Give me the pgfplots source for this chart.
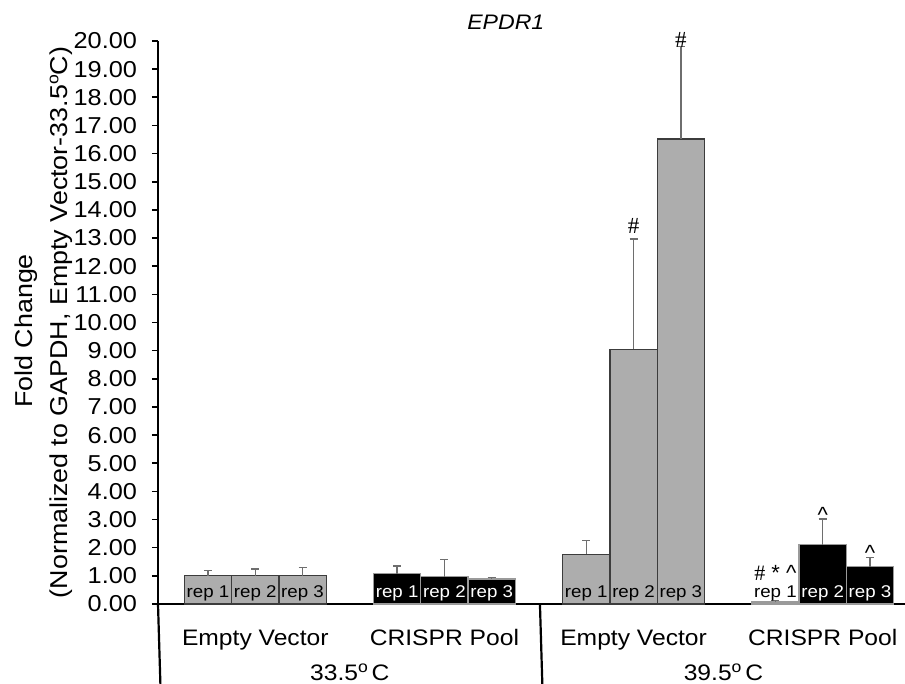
\documentclass[border=0pt]{standalone}
\usepackage{fontspec}
\setmainfont[FakeStretch=1.1]{Liberation Sans}
\newfontfamily\plainsans{Liberation Sans}
\newfontfamily\serifmark{Liberation Serif}
\usepackage{pgfplots}
\pgfplotsset{compat=1.18}
\definecolor{bargray}{HTML}{ADADAD}
\definecolor{edgegray}{HTML}{3C3C3C}
\definecolor{errgray}{HTML}{6E6E6E}
\definecolor{blackedge}{HTML}{9A9A9A}
\newcommand{\dego}{\raisebox{0.75ex}{\fontsize{8}{8}\selectfont o}}

\begin{document}
\begin{tikzpicture}
\path[use as bounding box] (-79pt,-40pt) rectangle (373.5pt,302pt);
\begin{axis}[
    at={(0,0)}, anchor=south west,
    scale only axis,
    width=373.5pt, height=281.5pt,
    xmin=-0.057, xmax=15.74,
    ymin=0, ymax=20,
    clip=false,
    axis x line=bottom, axis y line=left,
    axis line style={-, line width=1.1pt},
    ytick={0,1,...,20},
    y tick label style={font=\fontsize{11.5}{12}\selectfont, xshift=-4pt,
      /pgf/number format/fixed, /pgf/number format/fixed zerofill,
      /pgf/number format/precision=2, /pgf/number format/assume math mode=true},
    tick align=outside,
    major tick length=3pt,
    y tick style={black, line width=0.8pt},
    xtick={2,6,10,14},
    xticklabels={Empty Vector, CRISPR Pool, Empty Vector, CRISPR Pool},
    x tick style={draw=none},
    x tick label style={font=\fontsize{11.2}{13}\selectfont, anchor=base, yshift=-18pt},
    title={EPDR1},
    every axis title shift=0pt,
    title style={at={(0.4656,1.033)}, anchor=center, font=\itshape\fontsize{10.5}{12}\selectfont},
]
% empty vector, 33.5 and 39.5
\addplot[ybar, bar width=1, bar shift=0pt, fill=bargray, draw=edgegray, line width=0.6pt,
    error bars/.cd, y dir=plus, y explicit,
    error bar style={errgray, line width=0.7pt},
    error mark options={rotate=90, mark size=2pt, errgray, line width=0.7pt}]
  coordinates {
    (1, 1.00) +- (0, 0.18)
    (2, 1.00) +- (0, 0.24)
    (3, 1.00) +- (0, 0.30)
    (9, 1.77) +- (0, 0.48)
    (10, 9.05) +- (0, 3.92)
    (11, 16.52) +- (0, 3.28)
  };
% CRISPR pool
\addplot[ybar, bar width=1, bar shift=0pt, fill=black, draw=blackedge, line width=0.6pt,
    error bars/.cd, y dir=plus, y explicit,
    error bar style={errgray, line width=0.7pt},
    error mark options={rotate=90, mark size=2pt, errgray, line width=0.7pt}]
  coordinates {
    (5, 1.08) +- (0, 0.27)
    (6, 0.97) +- (0, 0.62)
    (7, 0.89) +- (0, 0.06)
    (13, 0.07) +- (0, 0.05)
    (14, 2.10) +- (0, 0.92)
    (15, 1.32) +- (0, 0.34)
  };
% rep labels
\addplot[draw=none, mark=none, nodes near coords, point meta=explicit symbolic,
    nodes near coords style={anchor=center, inner sep=0pt, font=\fontsize{8.5}{10}\selectfont, text=black}]
  coordinates {
    (1,0.39) [rep 1] (2,0.39) [rep 2] (3,0.39) [rep 3]
    (9,0.39) [rep 1] (10,0.39) [rep 2] (11,0.39) [rep 3]
    (13,0.39) [rep 1]
  };
\addplot[draw=none, mark=none, nodes near coords, point meta=explicit symbolic,
    nodes near coords style={anchor=center, inner sep=0pt, font=\fontsize{8.5}{10}\selectfont, text=white}]
  coordinates {
    (5,0.39) [rep 1] (6,0.39) [rep 2] (7,0.39) [rep 3]
    (14,0.39) [rep 2] (15,0.39) [rep 3]
  };
% significance marks
\addplot[draw=none, mark=none, nodes near coords, point meta=explicit symbolic,
    nodes near coords style={anchor=center, inner sep=0pt, font=\serifmark\fontsize{11.5}{12}\selectfont}]
  coordinates {
    (10,13.43) [\#] (11,20.04) [\#]
  };
\addplot[draw=none, mark=none, nodes near coords, point meta=explicit symbolic,
    nodes near coords style={anchor=center, inner sep=0pt, font=\plainsans\fontsize{11}{12}\selectfont}]
  coordinates {
    (14,3.15) [\textasciicircum] (15,1.83) [\textasciicircum]
    (13,1.1) [{{\serifmark\#} * \textasciicircum}]
  };
% group separators and temperature labels
\draw[line width=1.1pt] (axis cs:-0.057,0) -- ++(0,-45pt);
\draw[line width=1.1pt] (axis cs:8.02,0) -- ++(0,-45pt);
\node[anchor=base, font=\fontsize{11.2}{13}\selectfont] at ([yshift=-38.5pt]axis cs:4,0) {33.5\dego\,C};
\node[anchor=base, font=\fontsize{11.2}{13}\selectfont] at ([yshift=-38.5pt]axis cs:11.9,0) {39.5\dego\,C};
% y label, two lines
\node[rotate=90, anchor=base, font=\fontsize{12.2}{14}\selectfont] at ([xshift=-62.5pt]rel axis cs:0,0.485) {Fold Change};
\node[rotate=90, anchor=base, font=\fontsize{12.2}{14}\selectfont] at ([xshift=-45pt]rel axis cs:0,0.5) {(Normalized to GAPDH, Empty Vector-33.5\dego C)};
\end{axis}
\end{tikzpicture}
\end{document}
